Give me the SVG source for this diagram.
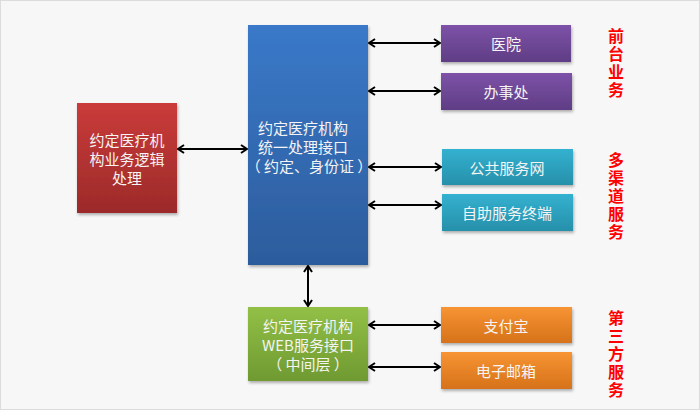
<svg xmlns="http://www.w3.org/2000/svg" width="700" height="410" viewBox="0 0 700 410">
<style>
.t{font-family:"Noto Sans CJK SC","Noto Sans",sans-serif;font-size:15px;fill:#f4f4f4;text-anchor:middle;dominant-baseline:central}
.lbl{font-family:"Noto Sans CJK SC",sans-serif;font-size:16px;font-weight:bold;fill:#ff0000;writing-mode:vertical-rl;text-orientation:upright;letter-spacing:2px}
.c{stroke:#000;stroke-width:2;fill:none;marker-start:url(#ah);marker-end:url(#ah)}
</style>
<defs>
<linearGradient id="gr" x1="0" y1="0" x2="0" y2="1"><stop offset="0" stop-color="#ca3b3a"/><stop offset="1" stop-color="#9c2a29"/></linearGradient>
<linearGradient id="gb" x1="0" y1="0" x2="0" y2="1"><stop offset="0" stop-color="#3a79c9"/><stop offset="1" stop-color="#2c5c9c"/></linearGradient>
<linearGradient id="gp" x1="0" y1="0" x2="0" y2="1"><stop offset="0" stop-color="#7d52a8"/><stop offset="1" stop-color="#5f3d84"/></linearGradient>
<linearGradient id="gc" x1="0" y1="0" x2="0" y2="1"><stop offset="0" stop-color="#33b1d0"/><stop offset="1" stop-color="#2790aa"/></linearGradient>
<linearGradient id="gg" x1="0" y1="0" x2="0" y2="1"><stop offset="0" stop-color="#92c046"/><stop offset="1" stop-color="#6f9a32"/></linearGradient>
<linearGradient id="go" x1="0" y1="0" x2="0" y2="1"><stop offset="0" stop-color="#f79433"/><stop offset="1" stop-color="#d6721a"/></linearGradient>
<filter id="sh" x="-10%" y="-10%" width="125%" height="130%"><feDropShadow dx="1" dy="2" stdDeviation="1.5" flood-color="#000" flood-opacity="0.3"/></filter>
<marker id="ah" viewBox="0 0 10 10" refX="9" refY="5" markerWidth="10" markerHeight="10" markerUnits="userSpaceOnUse" orient="auto-start-reverse"><path d="M3,1 L9,5 L3,9" fill="none" stroke="#000" stroke-width="2"/></marker>
</defs>
<rect x="0.5" y="0.5" width="699" height="409" fill="#f7f7f7" stroke="#dcdcdc"/>
<g id="connectors">
<line class="c" x1="178" y1="149" x2="247" y2="149"/>
<line class="c" x1="369" y1="43" x2="440" y2="43"/>
<line class="c" x1="369" y1="91" x2="440" y2="91"/>
<line class="c" x1="369" y1="167" x2="441" y2="167"/>
<line class="c" x1="369" y1="205" x2="441" y2="205"/>
<line class="c" x1="308" y1="266" x2="308" y2="306"/>
<line class="c" x1="369" y1="325" x2="440" y2="325"/>
<line class="c" x1="369" y1="367" x2="440" y2="367"/>
</g>
<g id="logic"><rect x="77" y="103" width="100" height="110" fill="url(#gr)" filter="url(#sh)"/>
<text class="t"><tspan x="127" y="139">约定医疗机</tspan><tspan x="127" y="158">构业务逻辑</tspan><tspan x="127" y="177">处理</tspan></text></g>
<g id="unified"><rect x="248" y="25" width="120" height="240" fill="url(#gb)" filter="url(#sh)"/>
<text class="t"><tspan x="303" y="127">约定医疗机构</tspan><tspan x="303" y="146">统一处理接口</tspan><tspan x="309" y="165">（ 约定、身份证 ）</tspan></text></g>
<g id="web"><rect x="248" y="307" width="120" height="74" fill="url(#gg)" filter="url(#sh)"/>
<text class="t"><tspan x="308" y="325">约定医疗机构</tspan><tspan x="308" y="344">WEB服务接口</tspan><tspan x="308" y="363">（ 中间层 ）</tspan></text></g>
<g id="hospital"><rect x="441" y="25" width="130" height="37" fill="url(#gp)" filter="url(#sh)"/><text class="t" x="506" y="43">医院</text></g>
<g id="office"><rect x="441" y="73" width="131" height="37" fill="url(#gp)" filter="url(#sh)"/><text class="t" x="506" y="91">办事处</text></g>
<g id="public"><rect x="442" y="149" width="131" height="36" fill="url(#gc)" filter="url(#sh)"/><text class="t" x="507" y="167">公共服务网</text></g>
<g id="kiosk"><rect x="442" y="194" width="131" height="37" fill="url(#gc)" filter="url(#sh)"/><text class="t" x="507" y="212">自助服务终端</text></g>
<g id="alipay"><rect x="441" y="307" width="131" height="36" fill="url(#go)" filter="url(#sh)"/><text class="t" x="506" y="325">支付宝</text></g>
<g id="email"><rect x="441" y="352" width="131" height="37" fill="url(#go)" filter="url(#sh)"/><text class="t" x="506" y="370">电子邮箱</text></g>
<g id="labels">
<text class="lbl" x="616" y="28">前台业务</text>
<text class="lbl" x="616" y="152">多渠道服务</text>
<text class="lbl" x="616" y="310">第三方服务</text>
</g>
</svg>
